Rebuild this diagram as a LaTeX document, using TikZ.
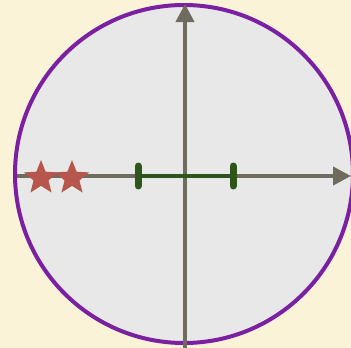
\documentclass[tikz,border=0pt]{standalone}
\usepackage{xcolor}
\definecolor{paper}{RGB}{250, 243, 216}
\definecolor{disc}{RGB}{232, 232, 232}
\definecolor{rim}{RGB}{122, 32, 160}
\definecolor{axis}{RGB}{112, 107, 95}
\definecolor{starred}{RGB}{183, 86, 76}
\definecolor{barg}{RGB}{46, 86, 26}
\usetikzlibrary{shapes.geometric,arrows.meta}

\begin{document}
\begin{tikzpicture}[
  x=1pt, y=-1pt,
  axisline/.style={-{Triangle[length=18pt, width=18pt]}, line width=4pt, color=axis},
  starmark/.style={star, star points=5, star point ratio=2.3, fill=starred, draw=none, minimum size=36pt, inner sep=0pt},
  bar/.style={line width=4.5pt, color=barg},
  barend/.style={line width=7pt, color=barg, line cap=round}
]
\fill[paper] (0,0) rectangle (351,348);
\useasboundingbox (0,0) rectangle (351,348);
\begin{scope}
\clip (0,0) rectangle (351,348);
\draw[rim, fill=disc, line width=4pt] (184,174) circle (169);
\end{scope}

\coordinate (o) at (185,176);
\coordinate (xs) at (17,176);
\coordinate (xe) at (351,176);
\coordinate (ys) at (185,348);
\coordinate (ye) at (185,4);

\draw[axisline] (xs) -- (xe);
\draw[axisline] (ys) -- (ye);

\node[starmark] (s1) at (41,178) {};
\node[starmark] (s2) at (72,178) {};

\coordinate (bl) at (138,176);
\coordinate (br) at (233,176);
\draw[bar] (bl) -- (br);
\draw[barend] ([yshift=-10]bl) -- ([yshift=10]bl);
\draw[barend] ([yshift=-10]br) -- ([yshift=10]br);
\end{tikzpicture}
\end{document}
